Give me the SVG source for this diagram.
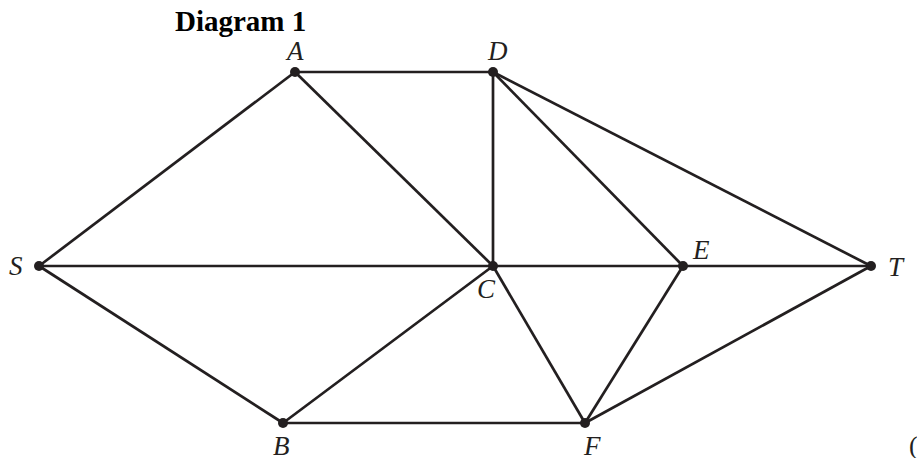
<svg xmlns="http://www.w3.org/2000/svg" width="917" height="458" viewBox="0 0 917 458">
<style>
.e{stroke:#231f20;stroke-width:2.7;fill:none}
.n{fill:#231f20}
.l{font-family:"Liberation Serif",serif;font-style:italic;font-size:27px;fill:#231f20}
.t{font-family:"Liberation Serif",serif;font-weight:bold;font-size:29px;fill:#000}
</style>
<rect width="917" height="458" fill="#fff"/>
<text class="t" x="175" y="31">Diagram 1</text>
<g id="connectors">
<line class="e" x1="39" y1="266" x2="295" y2="72"/>
<line class="e" x1="39" y1="266" x2="493" y2="266"/>
<line class="e" x1="39" y1="266" x2="283" y2="423"/>
<line class="e" x1="295" y1="72" x2="493" y2="72"/>
<line class="e" x1="295" y1="72" x2="493" y2="266"/>
<line class="e" x1="493" y1="72" x2="493" y2="266"/>
<line class="e" x1="493" y1="72" x2="683" y2="266"/>
<line class="e" x1="493" y1="72" x2="871" y2="266"/>
<line class="e" x1="493" y1="266" x2="871" y2="266"/>
<line class="e" x1="493" y1="266" x2="283" y2="423"/>
<line class="e" x1="493" y1="266" x2="585" y2="423"/>
<line class="e" x1="683" y1="266" x2="585" y2="423"/>
<line class="e" x1="283" y1="423" x2="585" y2="423"/>
<line class="e" x1="585" y1="423" x2="871" y2="266"/>
</g>
<g id="S"><circle class="n" cx="39" cy="266" r="5"/><text class="l" x="9" y="275">S</text></g>
<g id="A"><circle class="n" cx="295" cy="72" r="5"/><text class="l" x="287" y="60">A</text></g>
<g id="D"><circle class="n" cx="493" cy="72" r="5"/><text class="l" x="488" y="60">D</text></g>
<g id="C"><circle class="n" cx="493" cy="266" r="5"/><text class="l" x="477" y="298">C</text></g>
<g id="E"><circle class="n" cx="683" cy="266" r="5"/><text class="l" x="693" y="259">E</text></g>
<g id="T"><circle class="n" cx="871" cy="266" r="5"/><text class="l" x="888" y="276">T</text></g>
<g id="B"><circle class="n" cx="283" cy="423" r="5"/><text class="l" x="273" y="455">B</text></g>
<g id="F"><circle class="n" cx="585" cy="423" r="5"/><text class="l" x="584" y="455">F</text></g>
<text x="909" y="454" style="font-family:'Liberation Serif',serif;font-size:26px;fill:#231f20">(</text>
</svg>
